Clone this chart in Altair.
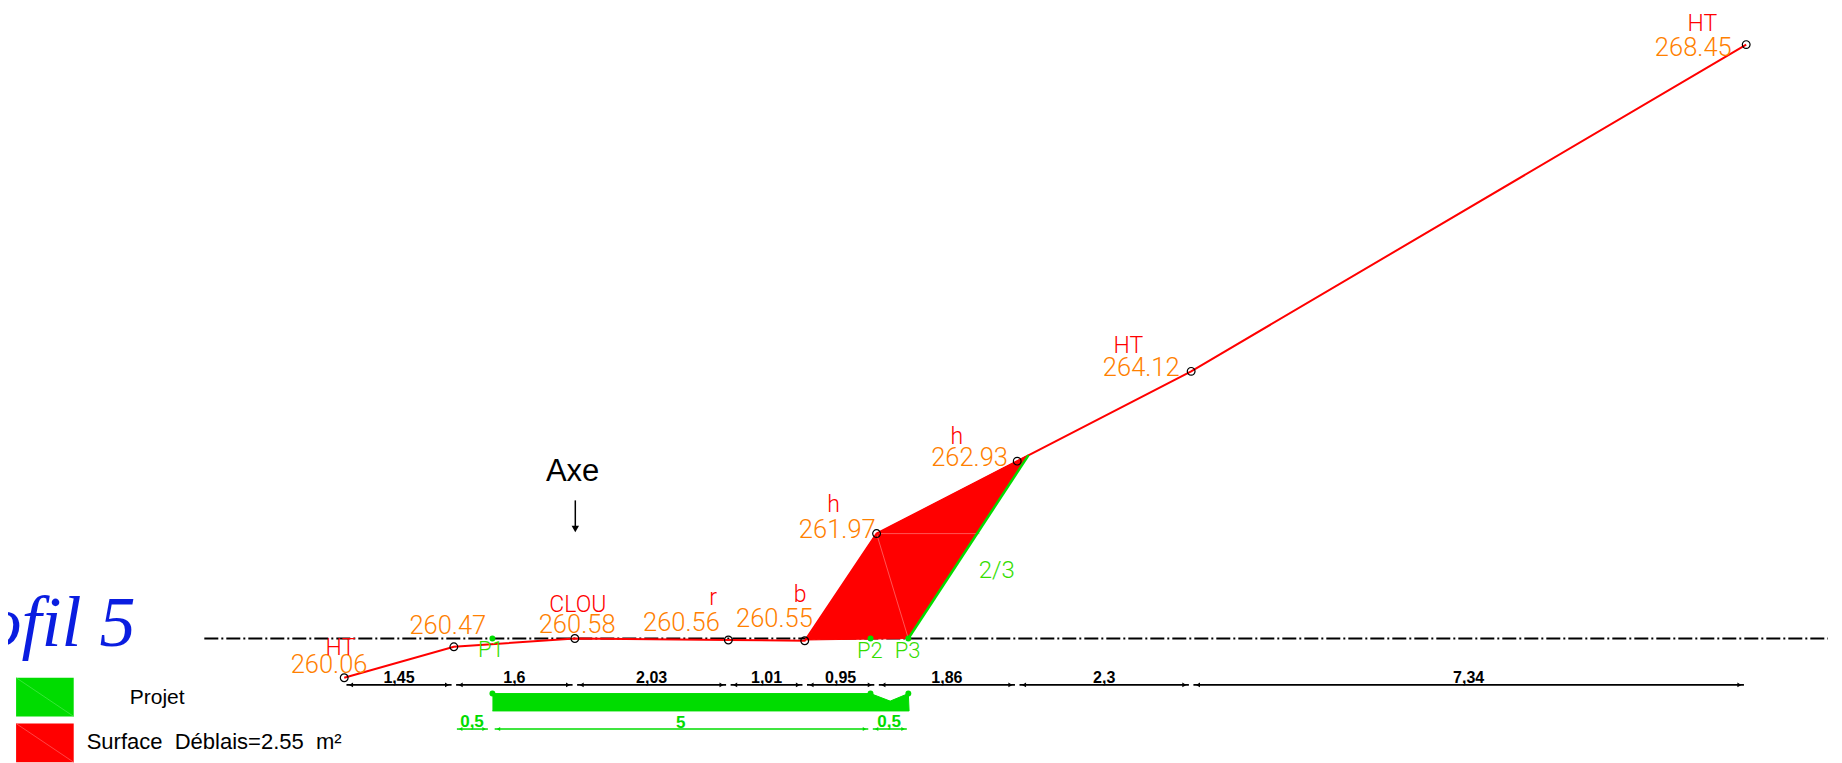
import altair as alt
import pandas as pd

# ---- survey data (metres) ----
spans = [1.45, 1.6, 2.03, 1.01, 0.95, 1.86, 2.3, 7.34]
span_labels = ["1,45", "1,6", "2,03", "1,01", "0,95", "1,86", "2,3", "7,34"]
elevations = [260.06, 260.47, 260.58, 260.56, 260.55, 261.97, 262.93, 264.12, 268.45]
elev_labels = ["260.06", "260.47", "260.58", "260.56", "260.55", "261.97", "262.93", "264.12", "268.45"]
stations = [0.0]
for s in spans:
    stations.append(round(stations[-1] + s, 2))

# text placement in drawing units
elev_text_x = [-0.20, 1.37, 3.08, 4.46, 5.69, 6.52, 8.27, 10.54, 17.84]
elev_text_y = [260.23, 260.74, 260.76, 260.79, 260.84, 262.02, 262.97, 264.17, 268.41]
code_labels = ["HT", "CLOU", "r", "b", "h", "h", "HT", "HT"]
code_text_x = [-0.05, 3.09, 4.88, 6.03, 6.47, 8.10, 10.37, 17.96]
code_text_y = [260.45, 261.02, 261.12, 261.15, 262.35, 263.25, 264.45, 268.72]

axis_level = 260.58
axis_from, axis_to = -1.85, 19.62
dim_level = 259.965
green_dim_level = 259.38

# project
p_names = ["P1", "P2", "P3"]
p_x = [1.96, 6.96, 7.46]
p_label_y = [260.43, 260.41, 260.42]
p_label_x = [1.94, 6.95, 7.45]
toe_x, toe_y = 9.05, 263.01
proj_x = [1.96, 6.96, 7.22, 7.46, 7.47, 1.96]
proj_y = [259.85, 259.85, 259.75, 259.85, 259.62, 259.62]
green_dims = [(1.49, 1.90, "0,5"), (1.99, 6.93, "5"), (6.99, 7.44, "0,5")]
green_dim_text_x = [1.69, 4.45, 7.205]
green_dim_text_y = [259.47, 259.46, 259.47]

# cut surface
cut_x = [6.11, 7.04, 9.05, 7.46, 6.11]
cut_y = [260.56, 261.97, 263.01, 260.58, 260.56]
inner_lines = [((7.04, 261.97), (7.46, 260.58)), ((7.04, 261.97), (8.40, 261.97))]

X_DOMAIN = [-4.446, 19.701]
Y_DOMAIN = [258.93, 268.935]
W, H = 1826, 755
x_s = alt.Scale(domain=X_DOMAIN, range=[0, W], nice=False, zero=False)
y_s = alt.Scale(domain=Y_DOMAIN, range=[H, 0], nice=False, zero=False)
X = alt.X("x:Q", scale=x_s, axis=None)
Y = alt.Y("y:Q", scale=y_s, axis=None)

RED = "#ff0000"
GREEN = "#00dc00"
ORANGE = "#ff8000"
LGREEN = "#33dd00"
FONT = "Liberation Sans"
CAD_FONT = "Roboto"


def line(xs, ys, **kw):
    df = pd.DataFrame({"x": xs, "y": ys, "i": range(len(xs))})
    return alt.Chart(df).mark_line(**kw).encode(x=X, y=Y, order="i:Q")


def texts(xs, ys, labels, **kw):
    df = pd.DataFrame({"x": xs, "y": ys, "t": labels})
    base = dict(font=FONT, baseline="middle", align="center")
    base.update(kw)
    return alt.Chart(df).mark_text(**base).encode(x=X, y=Y, text="t:N")


def dots(xs, ys, **kw):
    df = pd.DataFrame({"x": xs, "y": ys})
    return alt.Chart(df).mark_point(**kw).encode(x=X, y=Y)


layers = []
# centre line
layers.append(line([axis_from, axis_to], [axis_level, axis_level], color="#000000",
                   strokeWidth=2, strokeDash=[14, 3, 2, 3]))
# cut polygon
layers.append(line(cut_x, cut_y, color=RED, fill=RED, strokeWidth=1))
for a, b in inner_lines:
    layers.append(line([a[0], b[0]], [a[1], b[1]], color="#ff6a6a", strokeWidth=0.8))
# terrain
layers.append(line(stations, elevations, color=RED, strokeWidth=2))
# slope
layers.append(line([p_x[2], toe_x], [axis_level, toe_y], color=GREEN, strokeWidth=2.5))
# survey points
layers.append(dots(stations, elevations, shape="circle", size=60, filled=False,
                   color="#000000", strokeWidth=1.2, opacity=1))
# project body
layers.append(line(proj_x, proj_y, color=GREEN, fill=GREEN, strokeWidth=1))
layers.append(dots(p_x, [axis_level] * 3, shape="circle", size=35, filled=True, color=GREEN, opacity=1))
layers.append(dots(p_x, [259.85] * 3, shape="circle", size=35, filled=True, color=GREEN, opacity=1))

# black dimension chain
for i in range(len(spans)):
    a, b = stations[i] + 0.03, stations[i + 1] - 0.03
    layers.append(line([a, b], [dim_level, dim_level], color="#000000", strokeWidth=1.6))
    layers.append(dots([a + 0.06], [dim_level], shape="triangle-left", size=22, filled=True, color="#000000", opacity=1))
    layers.append(dots([b - 0.06], [dim_level], shape="triangle-right", size=22, filled=True, color="#000000", opacity=1))
layers.append(texts([(stations[i] + stations[i + 1]) / 2 for i in range(len(spans))],
                    [dim_level + 0.095] * len(spans), span_labels,
                    fontSize=16, fontWeight="bold", color="#000000"))

# green dimension chain
for a, b, _ in green_dims:
    layers.append(line([a, b], [green_dim_level, green_dim_level], color=GREEN, strokeWidth=1.5))
    layers.append(dots([a + 0.05], [green_dim_level], shape="triangle-left", size=16, filled=True, color=GREEN, opacity=1))
    layers.append(dots([b - 0.05], [green_dim_level], shape="triangle-right", size=16, filled=True, color=GREEN, opacity=1))
layers.append(texts(green_dim_text_x, green_dim_text_y, [d[2] for d in green_dims],
                    fontSize=17, color=GREEN, fontWeight="bold"))

# labels
layers.append(texts(elev_text_x, elev_text_y, elev_labels, fontSize=25.5, color=ORANGE,
                    font=CAD_FONT, fontWeight=300))
layers.append(texts(code_text_x, code_text_y, code_labels, fontSize=23, color=RED,
                    font=CAD_FONT, fontWeight=300))
layers.append(texts(p_label_x, p_label_y, p_names, fontSize=22, color=LGREEN,
                    font=CAD_FONT, fontWeight=300))
layers.append(texts([8.63], [261.47], ["2/3"], fontSize=24, color=LGREEN,
                    font=CAD_FONT, fontWeight=300))

# axis marker
layers.append(line([3.056, 3.056], [262.41, 262.05], color="#000000", strokeWidth=1.5))
layers.append(dots([3.056], [262.03], shape="triangle-down", size=55, filled=True, color="#000000", opacity=1))
layers.append(texts([3.02], [262.78], ["Axe"], fontSize=31, color="#000000"))

# legend
legend_x = (-4.339, -3.577)
for y1, y2, col, diag in [(260.06, 259.547, GREEN, "#44e844"), (259.453, 258.94, RED, "#ff5555")]:
    df = pd.DataFrame({"x": [legend_x[0]], "x2": [legend_x[1]], "y": [y1], "y2": [y2]})
    layers.append(alt.Chart(df).mark_rect(color=col).encode(x=X, x2="x2:Q", y=Y, y2="y2:Q"))
    layers.append(line(list(legend_x), [y1, y2], color=diag, strokeWidth=0.8))
layers.append(texts([-2.473], [259.796], ["Projet"], fontSize=21, color="#000000"))
layers.append(texts([-3.406], [259.205], ["Surface\u00a0\u00a0Déblais=2.55\u00a0\u00a0m²"], fontSize=22,
                    align="left", color="#000000"))

# title, cut by the page edge as in the drawing
layers.append(texts([-2.76], [260.77], ["Profil 5"], font="Liberation Serif", fontStyle="italic",
                    fontSize=72, align="right", color="#0a1de0"))

chart = alt.layer(*layers).properties(
    width=W, height=H, padding=0, autosize=alt.AutoSizeParams(type="none"), background="#ffffff"
).configure_view(strokeWidth=0)

chart.save("out.html", embed_options={"renderer": "svg", "actions": False})
